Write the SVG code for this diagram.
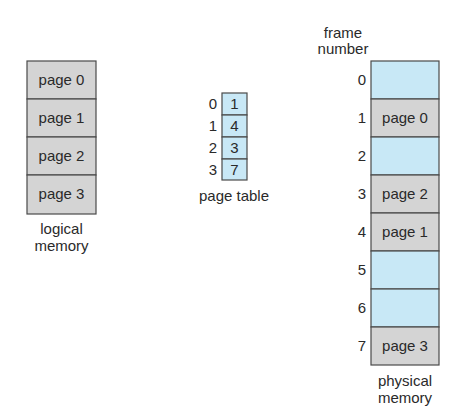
<svg xmlns="http://www.w3.org/2000/svg" width="474" height="418" viewBox="0 0 474 418">
<style>
text{font-family:"Liberation Sans",Arial,sans-serif;font-size:15px;fill:#2a2a2a}
.g{fill:#d4d4d4;stroke:#4a4a4a;stroke-width:1.2}
.b{fill:#c8e8f6;stroke:#4a4a4a;stroke-width:1.2}
.c{text-anchor:middle}
.e{text-anchor:end}
</style>
<rect width="474" height="418" fill="#fff"/>
<g id="logical-memory">
<rect class="g" x="27" y="61" width="69" height="38"/>
<rect class="g" x="27" y="99" width="69" height="38"/>
<rect class="g" x="27" y="137" width="69" height="38"/>
<rect class="g" x="27" y="175" width="69" height="39"/>
<text class="c" x="61.5" y="85">page 0</text>
<text class="c" x="61.5" y="123">page 1</text>
<text class="c" x="61.5" y="161">page 2</text>
<text class="c" x="61.5" y="199">page 3</text>
<text class="c" x="61.5" y="234">logical</text>
<text class="c" x="61.5" y="251">memory</text>
</g>
<g id="page-table">
<rect class="b" x="222" y="93" width="25" height="22"/>
<rect class="b" x="222" y="115" width="25" height="22"/>
<rect class="b" x="222" y="137" width="25" height="22"/>
<rect class="b" x="222" y="159" width="25" height="21"/>
<text class="c" x="234.5" y="109">1</text>
<text class="c" x="234.5" y="131">4</text>
<text class="c" x="234.5" y="153">3</text>
<text class="c" x="234.5" y="175">7</text>
<text class="e" x="217" y="109">0</text>
<text class="e" x="217" y="131">1</text>
<text class="e" x="217" y="153">2</text>
<text class="e" x="217" y="175">3</text>
<text class="c" x="234" y="201">page table</text>
</g>
<g id="physical-memory">
<rect class="b" x="371" y="61" width="68" height="38"/>
<rect class="g" x="371" y="99" width="68" height="38"/>
<rect class="b" x="371" y="137" width="68" height="38"/>
<rect class="g" x="371" y="175" width="68" height="38"/>
<rect class="g" x="371" y="213" width="68" height="38"/>
<rect class="b" x="371" y="251" width="68" height="38"/>
<rect class="b" x="371" y="289" width="68" height="38"/>
<rect class="g" x="371" y="327" width="68" height="38"/>
<text class="c" x="405" y="123">page 0</text>
<text class="c" x="405" y="199">page 2</text>
<text class="c" x="405" y="237">page 1</text>
<text class="c" x="405" y="351">page 3</text>
<text class="e" x="366" y="85">0</text>
<text class="e" x="366" y="123">1</text>
<text class="e" x="366" y="161">2</text>
<text class="e" x="366" y="199">3</text>
<text class="e" x="366" y="237">4</text>
<text class="e" x="366" y="275">5</text>
<text class="e" x="366" y="313">6</text>
<text class="e" x="366" y="351">7</text>
<text class="c" x="343" y="38">frame</text>
<text class="c" x="343" y="54">number</text>
<text class="c" x="405" y="386">physical</text>
<text class="c" x="405" y="403">memory</text>
</g>
<g id="connectors"/>
</svg>
